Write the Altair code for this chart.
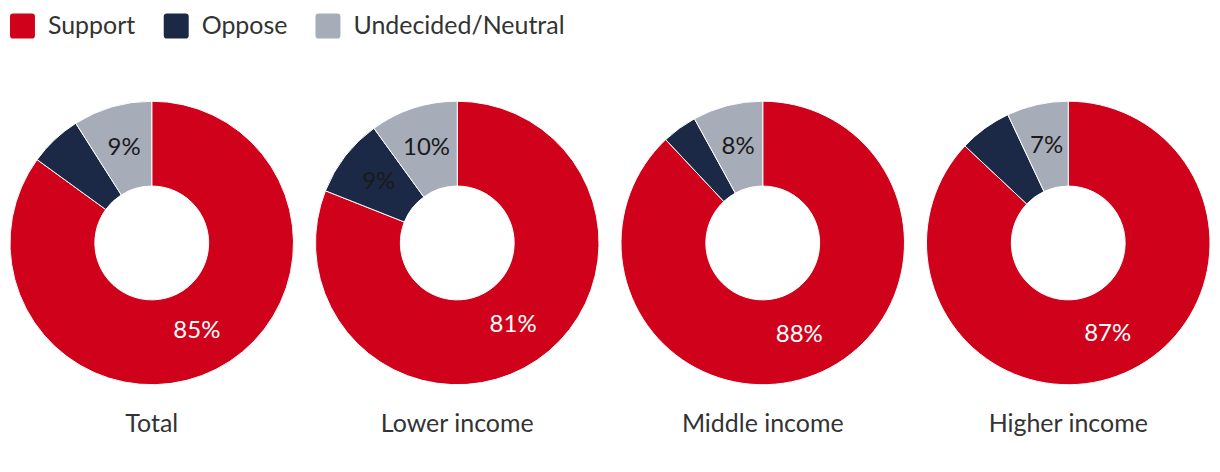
import altair as alt
import pandas as pd

groups = ["Total", "Lower income", "Middle income", "Higher income"]
categories = ["Support", "Oppose", "Undecided/Neutral"]
support = [85, 81, 88, 87]
oppose = [6, 9, 4, 6]
undecided = [9, 10, 8, 7]
colors = ["#d0021b", "#1b2846", "#a7acb9"]
text_colors = ["#ffffff", "#1a1a1a", "#1a1a1a"]

rows = []
for gi, g in enumerate(groups):
    for ci, (c, vals) in enumerate(zip(categories, [support, oppose, undecided])):
        rows.append({"group": g, "category": c, "idx": ci, "value": vals[gi],
                     "tcolor": text_colors[ci]})
df = pd.DataFrame(rows)

FONT = "Lato"
rounded = ("M -0.75,-1 L 0.75,-1 Q 1,-1 1,-0.75 L 1,0.75 Q 1,1 0.75,1 "
           "L -0.75,1 Q -1,1 -1,0.75 L -1,-0.75 Q -1,-1 -0.75,-1 Z")

base = alt.Chart().transform_calculate(
    label="datum.value >= 7 ? datum.value + '%' : ''"
)

arc = base.mark_arc(outerRadius=142, innerRadius=57, stroke="white", strokeWidth=1).encode(
    theta=alt.Theta("value:Q", stack=True),
    color=alt.Color("category:N", sort=categories,
                    scale=alt.Scale(domain=categories, range=colors),
                    legend=alt.Legend(orient="top", direction="horizontal", title=None,
                                      labelFontSize=25, labelFont=FONT, labelColor="#333333",
                                      labelLimit=0,
                                      symbolSize=625, symbolType=rounded, symbolStrokeWidth=0,
                                      labelOffset=13, columnPadding=28, offset=58,
                                      padding=2)),
    order=alt.Order("idx:Q"),
)

text = base.mark_text(radius=99.5, fontSize=24, font=FONT).encode(
    theta=alt.Theta("value:Q", stack=True),
    text="label:N",
    color=alt.Color("tcolor:N", scale=None),
    order=alt.Order("idx:Q"),
)

chart = alt.layer(arc, text, data=df).properties(width=288, height=288).facet(
    column=alt.Column("group:N", sort=groups,
                      header=alt.Header(labelOrient="bottom", title=None, labelFontSize=25,
                                        labelFont=FONT, labelColor="#333333", labelPadding=25)),
    spacing=18,
).configure_view(stroke=None).properties(
    padding={"left": 0, "top": 3, "right": 0, "bottom": 0}
)

chart.save("out.html", embed_options={"renderer": "svg", "actions": False})
